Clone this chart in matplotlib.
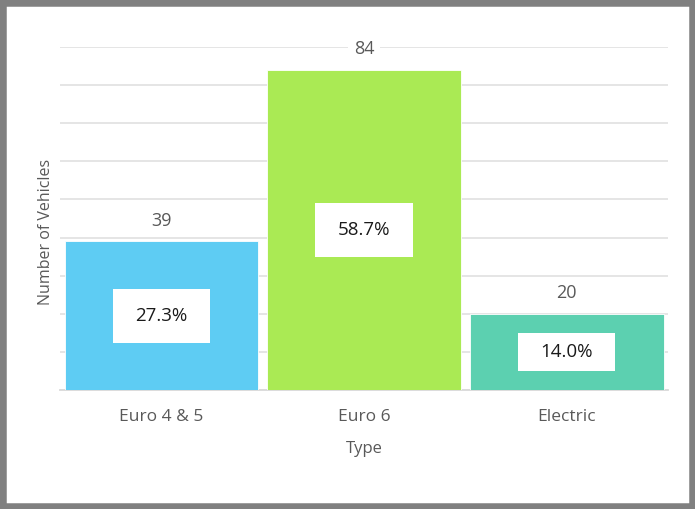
import matplotlib.pyplot as plt
import matplotlib.patches as patches

# Data
types = ['Euro 4 & 5', 'Euro 6', 'Electric']
counts = [39, 84, 20]
shares = ['27.3%', '58.7%', '14.0%']
bar_colors = ['#5ECCF3', '#AAEA54', '#5CD0B0']

plt.rcParams['font.family'] = ['Open Sans', 'DejaVu Sans']

fig = plt.figure(figsize=(6.95, 5.09), dpi=100)
ax = fig.add_axes([0.0863, 0.2338, 0.875, 0.6739])

x = range(len(types))
bars = ax.bar(x, counts, width=0.955, color=bar_colors, edgecolor='#ffffff',
              linewidth=0.6, zorder=3)

ax.set_xlim(-0.5, 2.5)
ax.set_ylim(0, 90)
ax.set_yticks(range(0, 91, 10))
ax.set_yticklabels([])
ax.tick_params(axis='y', length=0)
ax.tick_params(axis='x', length=0, pad=14, labelsize=12.5, labelcolor='#595959')
ax.set_xticks(list(x))
ax.set_xticklabels(types)
ax.grid(axis='y', color='#e3e3e3', linewidth=1.3, zorder=0)
for s in ['top', 'right', 'left']:
    ax.spines[s].set_visible(False)
ax.spines['bottom'].set_color('#d9d9d9')
ax.spines['bottom'].set_linewidth(1.3)

ax.set_xlabel('Type', fontsize=12, color='#595959', labelpad=11)
ax.set_ylabel('Number of Vehicles', fontsize=11.5, color='#595959')
ax.yaxis.set_label_coords(-0.01, 0.46)

# value labels above bars
for b, v in zip(bars, counts):
    ax.annotate(str(v), (b.get_x() + b.get_width() / 2, v), xytext=(0, 15),
                textcoords='offset points', ha='center', va='center',
                fontsize=13, color='#595959', zorder=5,
                bbox=dict(boxstyle='square,pad=0.3', fc='white', ec='none'))

# percentage boxes inside bars
for b, v, s in zip(bars, counts, shares):
    cx = b.get_x() + b.get_width() / 2
    h = min(14.2, v / 2)
    ax.add_patch(patches.Rectangle((cx - 0.24, v / 2 - h / 2), 0.48, h,
                                   facecolor='white', edgecolor='none', zorder=4))
    ax.text(cx, v / 2, s, ha='center', va='center', fontsize=13.5,
            color='#1a1a1a', zorder=5)

# grey frame round the picture
fig.patches.append(patches.Rectangle((0, 0), 1, 1, transform=fig.transFigure,
                                     fill=False, edgecolor='#808080', linewidth=9))

fig.savefig('out.png', dpi=100)
